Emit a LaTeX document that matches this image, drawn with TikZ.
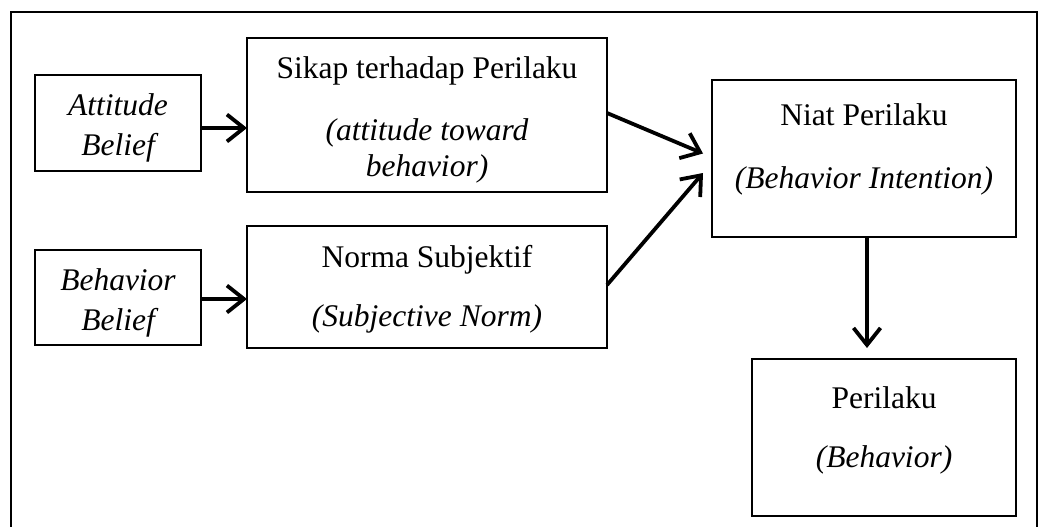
\documentclass[tikz,border=0pt]{standalone}
\usepackage{fontspec}
\setmainfont{Liberation Serif}
\usetikzlibrary{arrows.meta}
\begin{document}
\begin{tikzpicture}[x=1pt,y=-1pt,
  box/.style={draw, line width=2.7pt, rectangle, inner sep=0pt, outer sep=0pt},
  arr/.style={line width=3.8pt, -{Straight Barb[length=17pt,width=27pt]}},
  txt/.style={anchor=base, inner sep=0pt, font=\fontsize{31.5}{37}\selectfont},
  itxt/.style={txt, font=\fontsize{31.5}{37}\selectfont\itshape}]
\useasboundingbox (0,0) rectangle (1039,527);
% outer frame
\draw[line width=2.7pt] (11,560) -- (11,12) -- (1037,12) -- (1037,560);
% boxes
\node[box, minimum width=166pt, minimum height=96pt] (ab) at (118,123) {};
\node[box, minimum width=360pt, minimum height=154pt] (sikap) at (427,115) {};
\node[box, minimum width=166pt, minimum height=95pt] (bb) at (118,297.5) {};
\node[box, minimum width=360pt, minimum height=122pt] (norma) at (427,287) {};
\node[box, minimum width=304pt, minimum height=157pt] (niat) at (864,158.5) {};
\node[box, minimum width=264pt, minimum height=157pt] (peri) at (884,437.5) {};
% texts
\node[itxt] (t1) at (118,115) {Attitude};
\node[itxt] (t2) at (118,155) {Belief};
\node[itxt] (t3) at (118,290) {Behavior};
\node[itxt] (t4) at (118,330) {Belief};
\node[txt] (t5) at (427,78) {Sikap terhadap Perilaku};
\node[itxt] (t6) at (427,140) {(attitude toward};
\node[itxt] (t7) at (427,176) {behavior)};
\node[txt] (t8) at (427,267) {Norma Subjektif};
\node[itxt] (t9) at (427,326) {(Subjective Norm)};
\node[txt] (t10) at (864,125) {Niat Perilaku};
\node[itxt] (t11) at (864,188) {(Behavior Intention)};
\node[txt] (t12) at (884,408) {Perilaku};
\node[itxt] (t13) at (884,467) {(Behavior)};
% connectors
\coordinate (a1) at ([yshift=-5pt]ab.east);
\draw[arr] (a1) -- (a1 -| sikap.west);
\coordinate (a2) at ([yshift=-1.5pt]bb.east);
\draw[arr] (a2) -- (a2 -| norma.west);
\draw[arr] ([yshift=2pt]sikap.east) -- ([xshift=-9pt,yshift=5pt]niat.west);
\draw[arr] ([yshift=2pt]norma.east) -- ([xshift=-9pt,yshift=-14.5pt]niat.west);
\coordinate (a3) at ([xshift=3pt]niat.south);
\draw[arr, shorten >=11pt] (a3) -- (a3 |- peri.north);
\end{tikzpicture}
\end{document}
